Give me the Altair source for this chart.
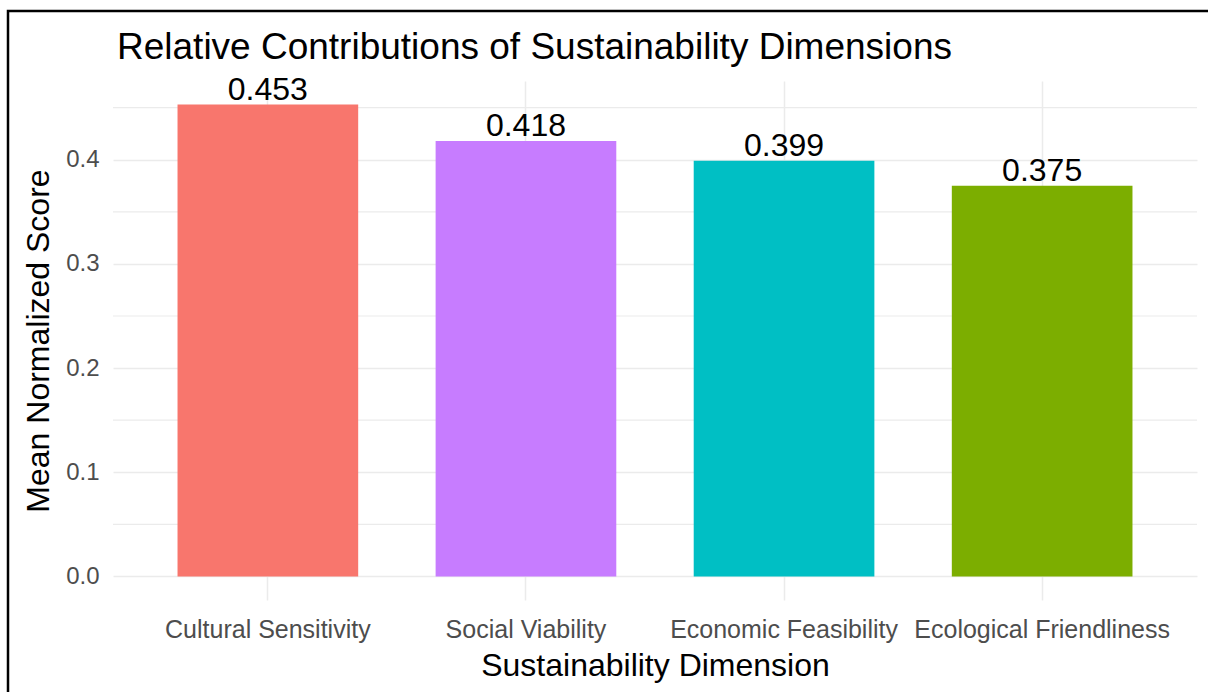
import altair as alt
import pandas as pd

# Mean normalized score for each sustainability dimension
dimensions = [
    "Cultural Sensitivity",
    "Social Viability",
    "Economic Feasibility",
    "Ecological Friendliness",
]
scores = [0.453, 0.418, 0.399, 0.375]
bar_colors = ["#F8766D", "#C77CFF", "#00BFC4", "#7CAE00"]

# Major and minor gridline positions on the score axis
major_ticks = [0.0, 0.1, 0.2, 0.3, 0.4]
minor_ticks = [0.05, 0.15, 0.25, 0.35, 0.45]

FONT = "Liberation Sans"
GRID = "#EBEBEB"

df = pd.DataFrame({"dimension": dimensions, "score": scores})
df["label"] = df["score"].map(lambda v: f"{v:.3f}")
minor_df = pd.DataFrame({"tick": minor_ticks})

# ggplot-style 5% expansion of the value range
y_max = max(scores)
pad = 0.05 * y_max
y_scale = alt.Scale(domain=[-pad, y_max + pad], nice=False, zero=False)

x_enc = alt.X(
    "dimension:N",
    sort=dimensions,
    scale=alt.Scale(paddingInner=0.3, paddingOuter=0.25),
    axis=alt.Axis(
        title="Sustainability Dimension",
        labelAngle=0,
        labelLimit=0,
        labelFont=FONT,
        labelFontSize=25,
        labelColor="#4D4D4D",
        labelPadding=17,
        titleFont=FONT,
        titleFontSize=32,
        titleFontWeight="normal",
        titleColor="black",
        titlePadding=8,
        ticks=False,
        domain=False,
        grid=True,
        gridColor=GRID,
        gridWidth=1.5,
        bandPosition=0.5,
    ),
)

y_enc = alt.Y(
    "score:Q",
    scale=y_scale,
    axis=alt.Axis(
        title="Mean Normalized Score",
        values=major_ticks,
        format=".1f",
        labelFont=FONT,
        labelFontSize=24,
        labelColor="#4D4D4D",
        labelPadding=14,
        titleFont=FONT,
        titleFontSize=32,
        titleFontWeight="normal",
        titleColor="black",
        titlePadding=10,
        ticks=False,
        domain=False,
        grid=True,
        gridColor=GRID,
        gridWidth=1.5,
    ),
)

minor_grid = (
    alt.Chart(minor_df)
    .mark_rule(color=GRID, strokeWidth=1.2)
    .encode(y=alt.Y("tick:Q", scale=y_scale))
)

bars = (
    alt.Chart(df)
    .mark_bar()
    .encode(
        x=x_enc,
        y=y_enc,
        color=alt.Color(
            "dimension:N",
            sort=dimensions,
            scale=alt.Scale(domain=dimensions, range=bar_colors),
            legend=None,
        ),
    )
)

labels = (
    alt.Chart(df)
    .mark_text(
        baseline="alphabetic",
        dy=-5,
        font=FONT,
        fontSize=32,
        color="black",
    )
    .encode(x=alt.X("dimension:N", sort=dimensions), y="score:Q", text="label:N")
)

# Thin black frame around the figure
frame = (
    alt.Chart(pd.DataFrame({"k": [0]}))
    .mark_rect(filled=False, stroke="black", strokeWidth=2.5)
    .encode(
        x=alt.value(-105),
        x2=alt.value(1100),
        y=alt.value(-70),
        y2=alt.value(620),
    )
)

# Chart title drawn as text just above the plot area
title = (
    alt.Chart(pd.DataFrame({"t": ["Relative Contributions of Sustainability Dimensions"]}))
    .mark_text(
        align="left",
        baseline="alphabetic",
        font=FONT,
        fontSize=37,
        color="black",
    )
    .encode(x=alt.value(4), y=alt.value(-22), text="t:N")
)

chart = (
    alt.layer(minor_grid, bars, labels, title, frame)
    .properties(
        width=1084,
        height=519,
        autosize="none",
        padding={"left": 113, "top": 81, "right": 11, "bottom": 92},
        background="white",
    )
    .configure_view(stroke=None)
)

chart.save("out.html", embed_options={"renderer": "svg", "actions": False})
